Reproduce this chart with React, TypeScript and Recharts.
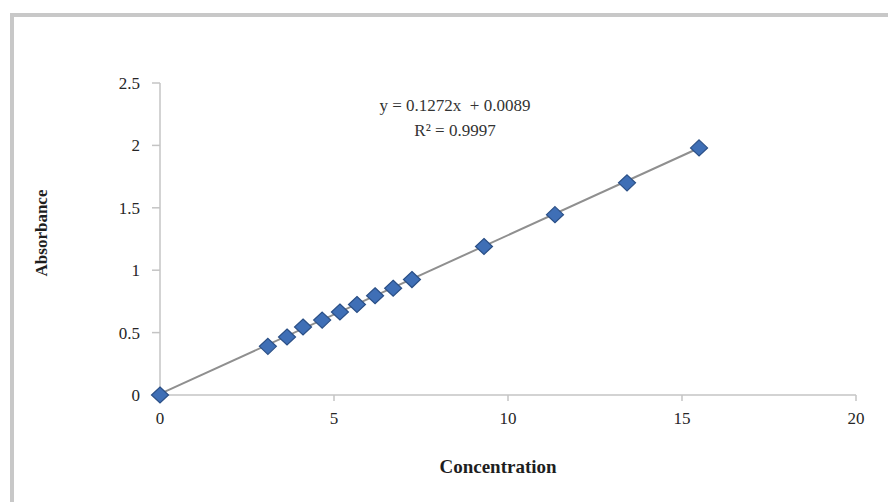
import React from 'react';
import { ScatterChart, Scatter, XAxis, YAxis, Label } from 'recharts';

const concentration = [0, 3.1, 3.65, 4.11, 4.66, 5.17, 5.66, 6.18, 6.7, 7.24, 9.31, 11.35, 13.42, 15.49];
const absorbance = [0, 0.39, 0.465, 0.545, 0.6, 0.665, 0.725, 0.795, 0.855, 0.925, 1.19, 1.445, 1.7, 1.98];
const trendX = [0, 15.49];
const trendY = [0.009, 1.979];
const xTicks = [0, 5, 10, 15, 20];
const yTicks = [0, 0.5, 1, 1.5, 2, 2.5];

const points = concentration.map((x, i) => ({ x, y: absorbance[i] }));
const trend = trendX.map((x, i) => ({ x, y: trendY[i] }));

const FONT = '"Liberation Serif", "DejaVu Serif", serif';
const AXIS = '#c4c4c4';
const tickStyle = { fontSize: 17, fill: '#262626', fontFamily: FONT };

function Diamond({ cx, cy }: any) {
  if (cx == null || cy == null) return <g />;
  const w = 8.5;
  const h = 8;
  return (
    <polygon
      points={`${cx},${cy - h} ${cx + w},${cy} ${cx},${cy + h} ${cx - w},${cy}`}
      fill="#3f6fb6"
      stroke="#2a4f86"
      strokeWidth={1.2}
    />
  );
}

export default function App() {
  return (
    <div style={{ position: 'absolute', left: 0, top: 0, width: 888, height: 502, background: '#fff', overflow: 'hidden' }}>
      <div
        style={{
          position: 'absolute',
          left: 10,
          top: 13,
          width: 900,
          height: 520,
          borderTop: '4px solid #c8c8c8',
          borderLeft: '4px solid #c8c8c8',
        }}
      />
      <ScatterChart width={888} height={502} margin={{ top: 83, right: 32, bottom: 12, left: 20 }}>
        <XAxis
          type="number"
          dataKey="x"
          domain={[0, 20]}
          ticks={xTicks}
          height={95}
          stroke={AXIS}
          strokeWidth={1.5}
          tickSize={6}
          tickMargin={11}
          tick={tickStyle}
        >
          <Label
            value="Concentration"
            position="insideBottom"
            offset={17}
            dx={-10}
            style={{ fontSize: 19, fontWeight: 700, fill: '#1e1e1e', fontFamily: FONT }}
          />
        </XAxis>
        <YAxis
          type="number"
          dataKey="y"
          domain={[0, 2.5]}
          ticks={yTicks}
          width={140}
          stroke={AXIS}
          strokeWidth={1.5}
          tickSize={8}
          tickMargin={12}
          tick={tickStyle}
        >
          <Label
            value="Absorbance"
            angle={-90}
            position="insideLeft"
            offset={21}
            dy={-6}
            style={{ fontSize: 17, fontWeight: 700, fill: '#1e1e1e', fontFamily: FONT, textAnchor: 'middle' }}
          />
        </YAxis>
        <Scatter
          data={trend}
          line={{ stroke: '#8f8f8f', strokeWidth: 2 }}
          shape={() => <g />}
          isAnimationActive={false}
        />
        <Scatter data={points} shape={<Diamond />} isAnimationActive={false} />
      </ScatterChart>
      <div
        style={{
          position: 'absolute',
          left: 300,
          width: 310,
          top: 93,
          textAlign: 'center',
          fontFamily: FONT,
          fontSize: 17,
          lineHeight: '25px',
          color: '#333',
        }}
      >
        <div>y = 0.1272x&nbsp; + 0.0089</div>
        <div>R² = 0.9997</div>
      </div>
    </div>
  );
}
